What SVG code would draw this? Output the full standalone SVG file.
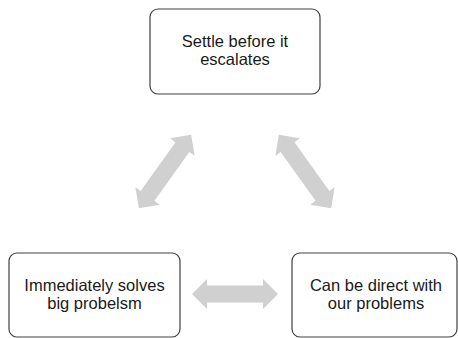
<svg xmlns="http://www.w3.org/2000/svg" width="458" height="338" viewBox="0 0 458 338">
  <style>
    .box { fill: #ffffff; stroke: #404040; stroke-width: 1.2; }
    .lbl { font-family: "Liberation Sans", Arial, sans-serif; font-size: 16.5px; fill: #1a1a1a; text-anchor: middle; }
    .arr { fill: #d0d0d0; stroke: none; }
  </style>
  <defs>
    <polygon id="darrow" class="arr" points="-45,0 -30,-15 -30,-8.5 30,-8.5 30,-15 45,0 30,15 30,8.5 -30,8.5 -30,15"/>
  </defs>
  <rect x="0" y="0" width="458" height="338" fill="#ffffff"/>
  <g id="connectors">
    <use href="#darrow" transform="translate(165,171.5) rotate(-54.5)"/>
    <use href="#darrow" transform="translate(305,171.5) rotate(54.5)"/>
    <polygon class="arr" transform="translate(235,294)" points="-43,0 -28,-15 -28,-8.5 28,-8.5 28,-15 43,0 28,15 28,8.5 -28,8.5 -28,15"/>
  </g>
  <g id="node-top">
    <rect class="box" x="150" y="9" width="170" height="85" rx="8" ry="8"/>
    <text class="lbl" x="235" y="47">Settle before it</text>
    <text class="lbl" x="235" y="65">escalates</text>
  </g>
  <g id="node-left">
    <rect class="box" x="9" y="253" width="171" height="84" rx="8" ry="8"/>
    <text class="lbl" x="94.5" y="291">Immediately solves</text>
    <text class="lbl" x="94.5" y="309">big probelsm</text>
  </g>
  <g id="node-right">
    <rect class="box" x="292" y="253" width="165" height="84" rx="8" ry="8"/>
    <text class="lbl" x="376" y="291">Can be direct with</text>
    <text class="lbl" x="376" y="309">our problems</text>
  </g>
</svg>
